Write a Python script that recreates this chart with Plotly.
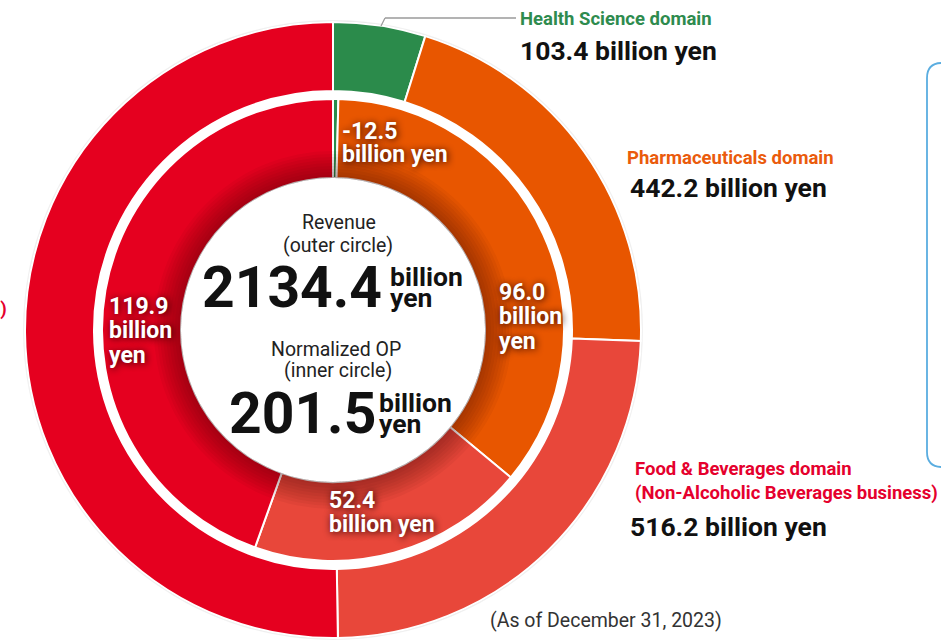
import plotly.graph_objects as go

W, H = 941, 640

# ---------------- data ----------------
outer_labels = ["Health Science domain", "Pharmaceuticals domain",
                "Food & Beverages domain (Non-Alcoholic Beverages business)",
                "Food & Beverages domain (Alcoholic Beverages business)"]
outer_values = [103.4, 442.2, 516.2, 1072.6]          # revenue, billion yen
inner_labels = outer_labels
inner_values = [-12.5, 96.0, 52.4, 119.9]              # normalized OP, billion yen
inner_display = [1.0, 96.0, 52.4, 119.9]               # negative OP drawn as thin sliver
revenue_total = "2134.4"
op_total = "201.5"
as_of = "(As of December 31, 2023)"

colors = ["#2B8B4B", "#E85600", "#E8473A", "#E5001F"]

# ---------------- geometry helpers ----------------
CX, CY = 333, 330
R_OUT, R_OUT_HOLE = 308, 239
R_IN, R_IN_HOLE = 231, 152


def px(x):
    return x / W


def py(y):
    return 1 - y / H


def dom(r):
    return dict(x=[px(CX - r), px(CX + r)], y=[py(CY + r), py(CY - r)])


fig = go.Figure()

# faint drop shadow under outer ring (limited by the figure edge)
for k, a in [(2, 0.06), (1, 0.08)]:
    fig.add_trace(go.Pie(values=[1], hole=(R_OUT - 4) / (R_OUT + k), sort=False,
                         marker=dict(colors=[f"rgba(0,0,0,{a})"], line=dict(width=0)),
                         textinfo="none", hoverinfo="skip", showlegend=False,
                         domain=dom(R_OUT + k)))

fig.add_trace(go.Pie(labels=outer_labels, values=outer_values, hole=R_OUT_HOLE / R_OUT,
                     sort=False, direction="clockwise", rotation=0,
                     marker=dict(colors=colors, line=dict(color="white", width=2)),
                     textinfo="none", hoverinfo="skip", showlegend=False,
                     domain=dom(R_OUT)))

fig.add_trace(go.Pie(labels=inner_labels, values=inner_display, hole=R_IN_HOLE / R_IN,
                     sort=False, direction="clockwise", rotation=0,
                     marker=dict(colors=colors, line=dict(color="white", width=2)),
                     textinfo="none", hoverinfo="skip", showlegend=False,
                     domain=dom(R_IN)))

# inner shadow cast by the white centre disc onto the inner ring
for k in range(1, 10):
    r = R_IN_HOLE + 3 * k
    fig.add_trace(go.Pie(values=[1], hole=R_IN_HOLE / r, sort=False,
                         marker=dict(colors=["rgba(40,0,0,0.045)"], line=dict(width=0)),
                         textinfo="none", hoverinfo="skip", showlegend=False,
                         domain=dom(r)))

FONT = "Roboto"
anns = []


def ann(text, x, y, size, color="#111", weight=400, xanchor="left", shadow=None):
    f = dict(family=FONT, size=size, color=color, weight=weight)
    if shadow:
        f["shadow"] = shadow
    anns.append(dict(text=text, x=px(x), y=py(y), xref="paper", yref="paper",
                     xanchor=xanchor, yanchor="middle", showarrow=False, font=f,
                     borderpad=0))


# centre texts
ann("Revenue", 339, 222, 19.5, "#222", xanchor="center")
ann("(outer circle)", 338, 245, 19.5, "#222", xanchor="center")
ann(revenue_total, 383, 287, 57, "#111", 700, xanchor="right")
ann("billion", 389, 276, 26.5, "#111", 700)
ann("yen", 389, 297, 26.5, "#111", 700)
ann("Normalized OP", 336, 349, 19.5, "#222", xanchor="center")
ann("(inner circle)", 338, 370, 19.5, "#222", xanchor="center")
ann(op_total, 377, 413, 57, "#111", 700, xanchor="right")
ann("billion", 378, 402, 26.5, "#111", 700)
ann("yen", 378, 423, 26.5, "#111", 700)

# inner ring labels
SH = "1px 1px 7px rgba(40,0,0,0.95)"


def op_text(v):
    return f"{v:.1f}"


LS = 23
ann(op_text(inner_values[0]), 341, 131, LS, "white", 700, shadow=SH)
ann("billion yen", 341, 154, LS, "white", 700, shadow=SH)
ann(op_text(inner_values[1]), 498, 292, LS, "white", 700, shadow=SH)
ann("billion", 498, 316, LS, "white", 700, shadow=SH)
ann("yen", 498, 341, LS, "white", 700, shadow=SH)
ann(op_text(inner_values[3]), 108, 306, LS, "white", 700, shadow=SH)
ann("billion", 108, 330, LS, "white", 700, shadow=SH)
ann("yen", 108, 355, LS, "white", 700, shadow=SH)
ann(op_text(inner_values[2]), 328, 500, LS, "white", 700, shadow=SH)
ann("billion yen", 328, 524, LS, "white", 700, shadow=SH)

# outer labels
DS, VS = 18.5, 26.5
ann("Health Science domain", 519, 19, DS, "#2E8B4E", 700)
ann(f"{outer_values[0]:.1f} billion yen", 519, 50, VS, "#111", 700)
ann("Pharmaceuticals domain", 626, 158, DS, "#EA5B0C", 700)
ann(f"{outer_values[1]:.1f} billion yen", 629, 188, VS, "#111", 700)
ann("Food & Beverages domain", 634, 469, DS, "#E5002D", 700)
ann("(Non-Alcoholic Beverages business)", 634, 493, DS, "#E5002D", 700)
ann(f"{outer_values[2]:.1f} billion yen", 629, 526, VS, "#111", 700)
ann("(Alcoholic Beverages business)", 8, 309, DS, "#E5002D", 700, xanchor="right")

ann(as_of, 606, 620, 19.5, "#333", xanchor="center")

# leader line + blue rounded box
shapes = [
    dict(type="line", xref="paper", yref="paper", x0=px(381), y0=py(26), x1=px(385), y1=py(18),
         line=dict(color="#9a9a9a", width=1.3)),
    dict(type="line", xref="paper", yref="paper", x0=px(385), y0=py(18), x1=px(516), y1=py(18),
         line=dict(color="#9a9a9a", width=1.3)),
]
bx, bt, bb, rr = 927, 63, 467, 15
path = (f"M {px(1000)},{py(bt)} L {px(bx + rr)},{py(bt)} "
        f"Q {px(bx)},{py(bt)} {px(bx)},{py(bt + rr)} "
        f"L {px(bx)},{py(bb - rr)} Q {px(bx)},{py(bb)} {px(bx + rr)},{py(bb)} "
        f"L {px(1000)},{py(bb)}")
shapes.append(dict(type="path", xref="paper", yref="paper", path=path,
                   line=dict(color="#5AADE0", width=1.8)))

fig.update_layout(width=W, height=H, margin=dict(l=0, r=0, t=0, b=0),
                  paper_bgcolor="white", plot_bgcolor="white",
                  annotations=anns, shapes=shapes, showlegend=False,
                  font=dict(family=FONT))

fig.write_html("out.html", config={"displayModeBar": False})
